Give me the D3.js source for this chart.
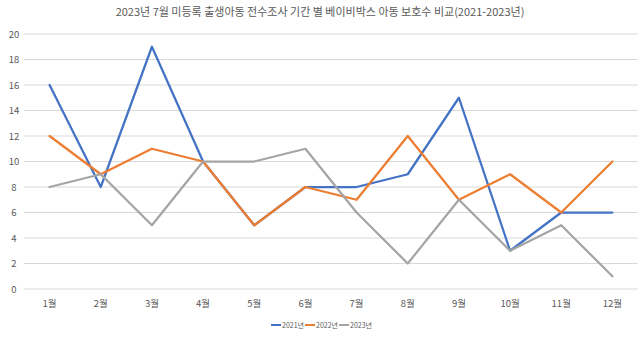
<!DOCTYPE html>
<html><head><meta charset="utf-8">
<script src="https://cdn.jsdelivr.net/npm/d3@7"></script>
<style>body{margin:0;background:#fff}svg{display:block;font-family:"Noto Sans CJK KR","Noto Sans",sans-serif}</style>
</head><body><svg id="c" width="640" height="337"></svg>
<script>
const categories = ["1월","2월","3월","4월","5월","6월","7월","8월","9월","10월","11월","12월"];
const seriesNames = ["2021년","2022년","2023년"];
const s2021 = [16,8,19,10,5,8,8,9,15,3,6,6];
const s2022 = [12,9,11,10,5,8,7,12,7,9,6,10];
const s2023 = [8,9,5,10,10,11,6,2,7,3,5,1];
const yTicks = [0,2,4,6,8,10,12,14,16,18,20];
const colors = ["#4472C4","#ED7D31","#A5A5A5"];
const series = [s2021,s2022,s2023];

const svg = d3.select("#c");
const x = d3.scaleBand().domain(categories).range([24,638]);
const y = d3.scaleLinear().domain([0,20]).range([289,34]);

svg.append("text").attr("x",320).attr("y",16).attr("text-anchor","middle")
  .attr("font-size",11).attr("fill","#595959").text("2023년 7월 미등록 출생아동 전수조사 기간 별 베이비박스 아동 보호수 비교(2021-2023년)");

const gy = svg.append("g");
yTicks.forEach(t=>{
  gy.append("line").attr("x1",24).attr("x2",638).attr("y1",y(t)).attr("y2",y(t))
    .attr("stroke","#D9D9D9").attr("stroke-width",1);
  gy.append("text").attr("x",14).attr("y",y(t)+3.5).attr("text-anchor","middle")
    .attr("font-size",9.5).attr("fill","#595959").text(t);
});
categories.forEach(c=>{
  svg.append("text").attr("x",x(c)+x.bandwidth()/2).attr("y",307).attr("text-anchor","middle")
    .attr("font-size",9.5).attr("fill","#595959").text(c);
});

const line = d3.line().x((d,i)=>x(categories[i])+x.bandwidth()/2).y(d=>y(d));
series.forEach((s,i)=>{
  svg.append("path").datum(s).attr("d",line).attr("fill","none")
    .attr("stroke",colors[i]).attr("stroke-width",2.25).attr("stroke-linejoin","round").attr("stroke-linecap","round");
});

const lg = svg.append("g");
let lx = 271;
seriesNames.forEach((n,i)=>{
  lg.append("line").attr("x1",lx).attr("x2",lx+10).attr("y1",325).attr("y2",325)
    .attr("stroke",colors[i]).attr("stroke-width",2);
  lg.append("text").attr("x",lx+11).attr("y",328).attr("font-size",7).attr("fill","#595959").text(n);
  lx += 34;
});
</script></body></html>
